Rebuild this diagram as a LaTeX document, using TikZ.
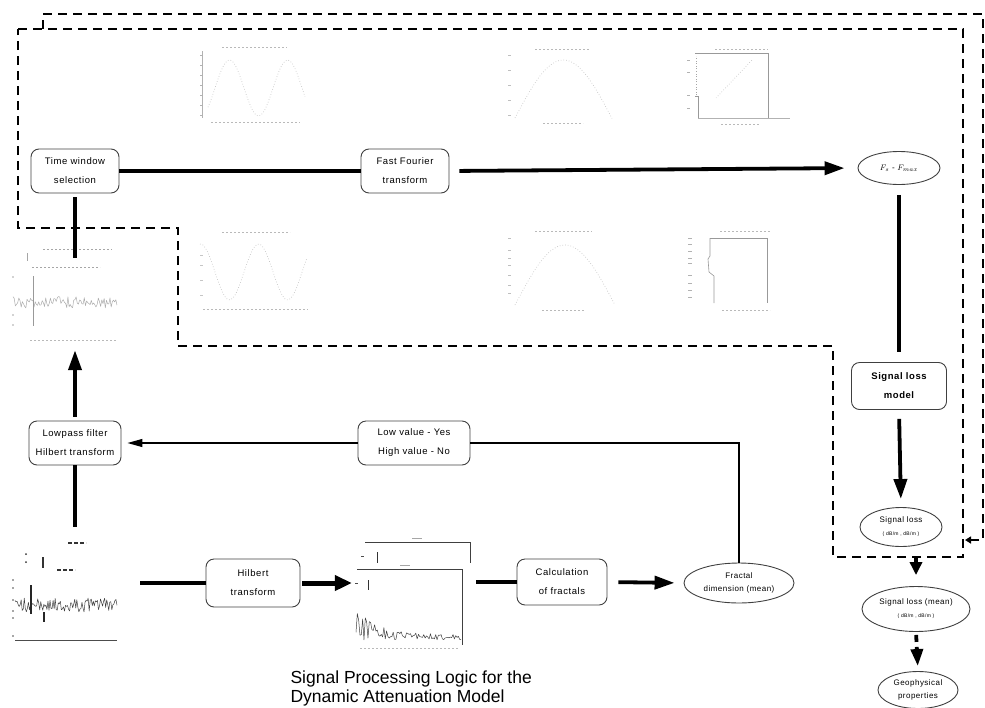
\documentclass[tikz,border=0pt]{standalone}
\usepackage{fontspec}
\setmainfont{Liberation Sans}
\newfontfamily\boxfont[LetterSpace=6]{Liberation Sans}
\usetikzlibrary{arrows.meta,shapes.geometric}

\begin{document}
\begin{tikzpicture}[x=1pt, y=-1pt, >={Triangle[length=20pt,width=13pt]},
    procbox/.style={draw=black!75, line width=0.9pt, rounded corners=8pt,
      minimum width=88pt, minimum height=44pt, align=center,
      font=\boxfont\fontsize{9.5}{19}\selectfont},
    outel/.style={draw=black!75, line width=0.9pt, ellipse, inner sep=0pt,
      align=center, font=\boxfont\fontsize{8}{13}\selectfont},
    thickflow/.style={line width=3.8pt},
    thinflow/.style={line width=1.2pt},
    frameline/.style={line width=2.8pt, dash pattern=on 9pt off 6pt},
    plotarea/.style={inner sep=0pt},
    faint/.style={gray!45, line width=0.7pt, dotted},
    axisline/.style={gray!60, line width=0.5pt},
    ticks/.style={gray!55, line width=0.6pt, dash pattern=on 2pt off 2pt},
    trace/.style={line width=0.5pt, line join=round}]
  \useasboundingbox (0,0) rectangle (985,707);
  \pgfmathsetseed{31}

  % dashed frames
  \draw[frameline] (18,29) -- (963,29) -- (963,557) -- (833,557) -- (833,346)
    -- (178,346) -- (178,228) -- (18,228) -- cycle;
  \draw[frameline, -{Triangle[length=6pt,width=7pt]}] (43,29) -- (43,14) -- (983,14)
    -- (983,540) -- (965,540);

  % spectra, top row
  \draw[ticks] (222,47) -- (287,47);
  \draw[axisline] (202,51) -- (202,118);
  \foreach \t in {55,65,75,85,95,105,115}
    \draw[gray!60] (200,\t) -- (202,\t);
  \draw[faint] plot[domain=208:305, samples=40] (\x, {88 - 28*sin((\x-215)*6.2)});
  \draw[ticks] (211,122) -- (300,122);
  \draw[ticks] (535,49) -- (590,49);
  \foreach \t in {55,70,85,100,115}
    \draw[gray!50] (508,\t) -- (511,\t);
  \draw[faint] plot[domain=515:612, samples=40] (\x, {118 - 58*sin((\x-515)*1.86)});
  \draw[ticks] (543,123) -- (583,123);
  \draw[ticks] (715,49) -- (768,49);
  \draw[axisline] (698,118) -- (790,118);
  \draw[gray!80, line width=0.6pt] (698,118) -- (698,96) -- (695,96);
  \draw[gray!70, dotted, line width=0.6pt] (696,95) -- (696,56);
  \draw[gray!80, line width=0.6pt] (695,53) -- (768,53) -- (768,118);
  \draw[faint] (716,98) -- (752,60);
  \foreach \t in {60,72,95,108}
    \draw[gray!60] (687,\t) -- (690,\t);
  \draw[ticks] (721,124) -- (760,124);

  % spectra, bottom row
  \draw[ticks] (222,232) -- (290,232);
  \draw[faint] plot[domain=200:307, samples=40] (\x, {272 + 28*sin((\x-215)*6.2)});
  \foreach \t in {255,265,280,295}
    \draw[gray!45] (200,\t) -- (203,\t);
  \draw[ticks] (203,309) -- (308,309);
  \draw[ticks] (535,231) -- (592,231);
  \foreach \t in {238,250,258,265,275,285,293}
    \draw[gray!50] (508,\t) -- (511,\t);
  \draw[faint] plot[domain=515:615, samples=40] (\x, {305 - 60*sin((\x-515)*1.8)});
  \draw[ticks] (542,310) -- (585,310);
  \draw[ticks] (720,231) -- (770,231);
  \draw[gray!80, line width=0.6pt] (710,238) -- (710,256) -- (708,259) -- (709,272)
    -- (714,276) -- (714,303);
  \draw[gray!80, line width=0.6pt] (710,238) -- (767,238) -- (767,303);
  \foreach \t in {238,244,251,258,263,275,283,290,297}
    \draw[gray!60] (688,\t) -- (692,\t);
  \draw[ticks] (722,310) -- (770,310);

  % seismic traces and envelopes
  \node[plotarea, minimum width=120pt, minimum height=92pt] (uptrace) at (75,304) {};
  \node[plotarea, minimum width=124pt, minimum height=112pt] (lowtrace) at (75,583) {};
  \node[plotarea, minimum width=124pt, minimum height=112pt] (envplot) at (414,594) {};

  \draw[ticks, gray!70] (43,249) -- (112,249);
  \draw[ticks, gray!70] (32,267) -- (100,267);
  \draw[gray!70, line width=1pt] (27,253) -- (27,261);
  \draw[trace, gray!65] plot[domain=13:117, samples=90] (\x, {302 + 6*rand});
  \draw[gray!80, line width=1pt] (33,276) -- (33,326);
  \foreach \t in {277,315,325}
    \fill[gray!70] (13,\t) circle (0.9pt);
  \draw[ticks] (30,340) -- (117,340);

  \draw[black!80, line width=1.2pt, dash pattern=on 4pt off 2pt] (68,543) -- (86,543);
  \draw[black!80, line width=1.2pt, dash pattern=on 4pt off 2pt] (57,570) -- (75,570);
  \fill[black!80] (26,554) circle (1pt) (26,562) circle (1pt);
  \draw[black!80, line width=1.2pt] (43,557) -- (43,568);
  \draw[trace, black!75] plot[domain=15:117, samples=100] (\x, {605 + 7*rand});
  \draw[black!85, line width=1.4pt] (31,585) -- (31,614);
  \draw[black!85, line width=1.1pt] (44,612) -- (44,622);
  \foreach \t in {580,588,600,611,618,636}
    \fill[black!70] (13,\t) circle (0.9pt);
  \draw[black!70, line width=0.6pt] (15,640) -- (117,640);

  \draw[black!75, line width=0.6pt] (365,542) -- (470,542) -- (470,563);
  \draw[black!75, line width=0.6pt] (357,569) -- (462,569) -- (462,645);
  \draw[gray!70, line width=0.8pt] (412,538) -- (422,538);
  \draw[gray!70, line width=0.8pt] (400,565) -- (410,565);
  \draw[black!80, line width=1pt] (377,552) -- (377,563) (368,580) -- (368,590);
  \draw[black!70, line width=1pt] (361,556) -- (364,556) (355,583) -- (358,583);
  \draw[trace, black!75] plot[domain=356:461, samples=80]
    (\x, {640 - abs(rand)*(6 + 26*exp(-(\x-356)/20))});
  \draw[ticks] (360,648) -- (458,648);

  % processing steps
  \node[procbox] (timewin) at (75,171) {Time window\\selection};
  \node[procbox] (fft) at (405,171) {Fast Fourier\\transform};
  \node[outel, minimum width=82pt, minimum height=33pt] (fratio) at (899,168)
    {$F_s$ - $F_{max}$};
  \node[procbox, minimum width=95pt, minimum height=47pt, font=\boxfont\bfseries\fontsize{9.5}{19}\selectfont]
    (lossmodel) at (899,386) {Signal loss\\model};
  \node[outel, minimum width=82pt, minimum height=39pt] (lossel) at (901,527)
    {Signal loss\\{\fontsize{5}{6}\selectfont( dB/m , dB/m )}};
  \node[outel, minimum width=108pt, minimum height=45pt] (lossmean) at (916,609)
    {Signal loss (mean)\\{\fontsize{5}{6}\selectfont( dB/m , dB/m )}};
  \node[outel, minimum width=80pt, minimum height=37pt] (geoprop) at (918,690)
    {Geophysical\\properties};
  \node[procbox, minimum width=92pt] (lowpass) at (75,443)
    {Lowpass filter\\Hilbert transform};
  \node[procbox, minimum width=112pt] (decide) at (414,443)
    {Low value - Yes\\High value - No};
  \node[procbox, minimum width=94pt, minimum height=48pt] (hilbert) at (253,583)
    {Hilbert\\transform};
  \node[procbox, minimum width=90pt, minimum height=46pt] (calcfrac) at (562,582)
    {Calculation\\of fractals};
  \node[outel, minimum width=110pt, minimum height=40pt] (fracdim) at (739,583)
    {Fractal\\dimension (mean)};

  \node[anchor=north west, align=left, font=\fontsize{17.5}{19}\selectfont] (title)
    at (287,667) {Signal Processing Logic for the\\Dynamic Attenuation Model};

  % connectors
  \draw[thickflow] (timewin.east) -- (fft.west);
  \draw[thickflow, ->, shorten <=10pt, shorten >=13pt] (fft.east) -- (fratio.west);
  \draw[thickflow, shorten <=10pt, shorten >=10pt] (fratio.south) -- (lossmodel.north);
  \draw[thickflow, ->, shorten <=9pt, shorten >=8pt] (lossmodel.south) -- (lossel.north);
  \draw[thickflow, -{Triangle[length=13pt,width=12pt]}, shorten <=10pt, shorten >=11pt]
    (lossmean.north |- lossel.south) -- (lossmean.north);
  \draw[thickflow, dash pattern=on 7pt off 5pt, -{Triangle[length=17pt,width=12pt]},
    shorten <=3pt, shorten >=5pt] (lossmean.south) -- (geoprop.north);
  \draw[thickflow, shorten <=4pt] (timewin.south) -- (uptrace.north);
  \draw[thickflow, ->, shorten <=4pt] (lowpass.north) -- (uptrace.south);
  \draw[thickflow] (lowtrace.north) -- (lowpass.south);
  \draw[thickflow, shorten <=3pt] (lowtrace.east) -- (lowtrace.east -| hilbert.west);
  \draw[line width=5pt, -{Triangle[length=17pt,width=15pt]}, shorten <=2pt]
    (hilbert.east) -- (hilbert.east -| envplot.west);
  \draw[thickflow] (envplot.east |- calcfrac.west) -- (calcfrac.west);
  \draw[thickflow, ->, shorten <=11pt, shorten >=9pt] (calcfrac.east) -- (fracdim.west);
  \draw[thinflow] (fracdim.north) |- (decide.east);
  \draw[thinflow, -{Triangle[length=15pt,width=8pt]}, shorten >=6pt]
    (decide.west) -- (lowpass.east);
\end{tikzpicture}
\end{document}
